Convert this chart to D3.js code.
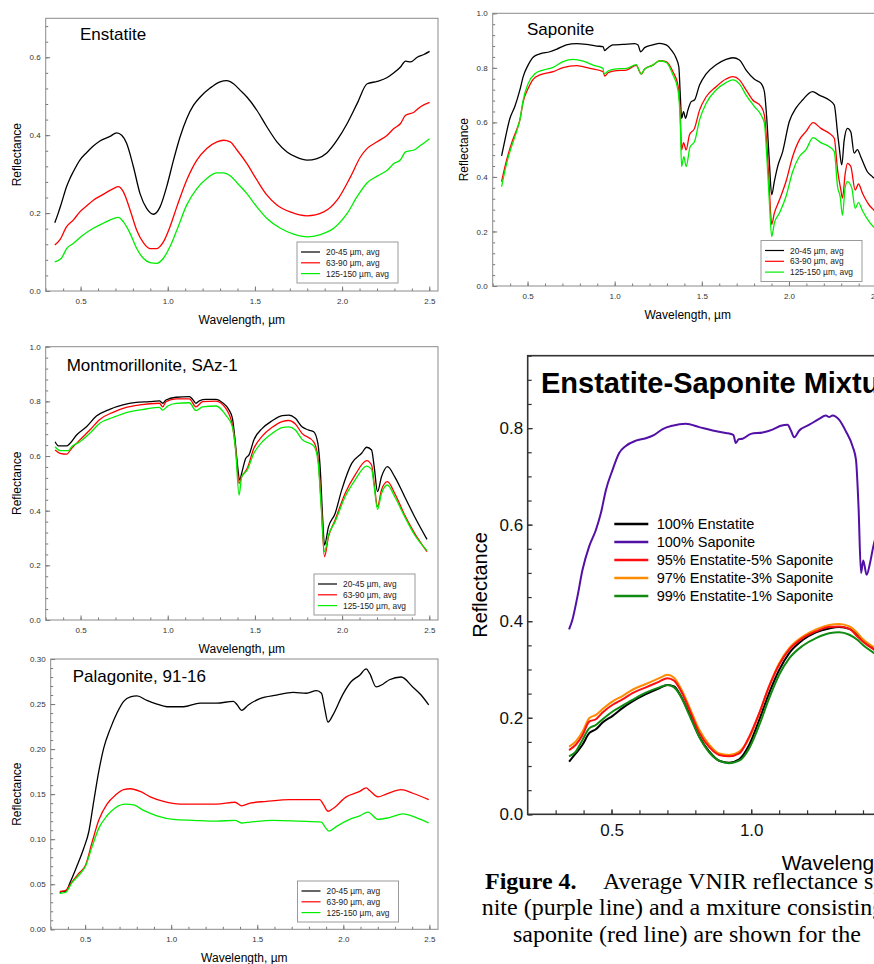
<!DOCTYPE html>
<html>
<head>
<meta charset="utf-8">
<script src="https://cdn.jsdelivr.net/npm/d3@7"></script>
<style>
  body { margin: 0; background: #fff; overflow: hidden; }
  svg { display: block; }
</style>
</head>
<body>
<svg id="fig" width="874" height="964"></svg>
<script>
// legend labels + colours for the grain size panels
const sizeLabels = ["20-45 µm, avg", "63-90 µm, avg", "125-150 µm, avg"];
const sizeColors = ["#000000", "#ff0000", "#00ee00"];

// Enstatite  [wavelength µm, reflectance]
const enstatite20 = [[0.352,0.175],[0.372,0.2],[0.39,0.225],[0.42,0.268],[0.439,0.289],[0.458,0.306],[0.496,0.336],[0.534,0.355],[0.573,0.372],[0.611,0.385],[0.669,0.397],[0.707,0.406],[0.736,0.4],[0.764,0.379],[0.803,0.319],[0.841,0.25],[0.879,0.212],[0.918,0.197],[0.956,0.216],[0.994,0.268],[1.033,0.336],[1.071,0.396],[1.109,0.443],[1.148,0.477],[1.186,0.498],[1.243,0.521],[1.3,0.537],[1.339,0.54],[1.377,0.532],[1.416,0.515],[1.454,0.498],[1.511,0.464],[1.569,0.421],[1.626,0.383],[1.684,0.357],[1.741,0.343],[1.799,0.336],[1.856,0.34],[1.914,0.355],[1.971,0.387],[2.029,0.43],[2.086,0.481],[2.144,0.532],[2.201,0.538],[2.259,0.548],[2.297,0.56],[2.335,0.575],[2.364,0.59],[2.393,0.588],[2.431,0.6],[2.469,0.607],[2.502,0.615]];
const enstatite63 = [[0.352,0.118],[0.381,0.131],[0.42,0.165],[0.458,0.182],[0.496,0.203],[0.534,0.218],[0.573,0.233],[0.63,0.248],[0.688,0.263],[0.717,0.268],[0.745,0.255],[0.784,0.208],[0.822,0.156],[0.86,0.124],[0.898,0.109],[0.937,0.109],[0.975,0.126],[1.013,0.165],[1.052,0.216],[1.109,0.285],[1.167,0.336],[1.224,0.366],[1.282,0.383],[1.32,0.387],[1.358,0.383],[1.397,0.362],[1.454,0.327],[1.511,0.285],[1.569,0.246],[1.626,0.221],[1.703,0.203],[1.799,0.193],[1.895,0.203],[1.971,0.233],[2.048,0.293],[2.105,0.344],[2.144,0.366],[2.201,0.383],[2.259,0.4],[2.297,0.417],[2.335,0.43],[2.364,0.451],[2.412,0.459],[2.45,0.473],[2.502,0.484]];
const enstatite125 = [[0.352,0.075],[0.39,0.084],[0.42,0.109],[0.458,0.122],[0.515,0.144],[0.573,0.161],[0.63,0.174],[0.688,0.186],[0.717,0.189],[0.745,0.178],[0.784,0.148],[0.822,0.109],[0.86,0.084],[0.898,0.073],[0.937,0.071],[0.975,0.084],[1.013,0.114],[1.052,0.156],[1.109,0.221],[1.167,0.263],[1.224,0.289],[1.282,0.303],[1.32,0.303],[1.358,0.296],[1.397,0.278],[1.454,0.25],[1.511,0.216],[1.569,0.186],[1.646,0.161],[1.722,0.146],[1.799,0.139],[1.876,0.145],[1.952,0.161],[2.029,0.199],[2.086,0.242],[2.144,0.278],[2.201,0.295],[2.259,0.31],[2.297,0.327],[2.335,0.337],[2.364,0.357],[2.412,0.362],[2.45,0.374],[2.502,0.391]];

// Saponite
const saponite20 = [[0.351,0.477],[0.37,0.535],[0.399,0.615],[0.427,0.658],[0.456,0.719],[0.475,0.768],[0.504,0.811],[0.532,0.839],[0.571,0.851],[0.628,0.859],[0.666,0.868],[0.723,0.884],[0.781,0.889],[0.838,0.886],[0.895,0.88],[0.933,0.878],[0.943,0.863],[0.952,0.868],[0.99,0.884],[1.048,0.886],[1.115,0.889],[1.134,0.884],[1.149,0.859],[1.172,0.874],[1.219,0.884],[1.258,0.89],[1.296,0.884],[1.324,0.866],[1.353,0.835],[1.368,0.804],[1.376,0.707],[1.384,0.615],[1.395,0.639],[1.407,0.615],[1.42,0.645],[1.439,0.676],[1.458,0.682],[1.487,0.737],[1.525,0.778],[1.582,0.811],[1.639,0.831],[1.678,0.837],[1.716,0.829],[1.754,0.792],[1.802,0.758],[1.84,0.743],[1.859,0.713],[1.872,0.621],[1.887,0.462],[1.901,0.334],[1.916,0.383],[1.935,0.438],[1.964,0.493],[2.002,0.603],[2.04,0.652],[2.078,0.682],[2.135,0.713],[2.174,0.7],[2.231,0.682],[2.26,0.664],[2.279,0.56],[2.288,0.511],[2.303,0.444],[2.317,0.535],[2.336,0.578],[2.355,0.565],[2.374,0.487],[2.393,0.5],[2.412,0.474],[2.45,0.419],[2.479,0.401],[2.5,0.39]];
const saponite63 = [[0.351,0.383],[0.38,0.462],[0.408,0.523],[0.437,0.572],[0.456,0.609],[0.475,0.676],[0.504,0.725],[0.532,0.758],[0.571,0.774],[0.647,0.786],[0.704,0.801],[0.781,0.808],[0.857,0.798],[0.933,0.786],[0.943,0.77],[0.962,0.782],[1.01,0.79],[1.067,0.792],[1.124,0.809],[1.143,0.786],[1.153,0.777],[1.172,0.796],[1.219,0.81],[1.258,0.826],[1.296,0.823],[1.334,0.786],[1.363,0.737],[1.376,0.633],[1.384,0.499],[1.395,0.526],[1.41,0.499],[1.429,0.554],[1.458,0.578],[1.487,0.645],[1.525,0.694],[1.582,0.731],[1.639,0.759],[1.678,0.768],[1.716,0.756],[1.754,0.719],[1.792,0.682],[1.84,0.658],[1.859,0.627],[1.874,0.511],[1.887,0.364],[1.901,0.226],[1.916,0.267],[1.945,0.315],[1.983,0.383],[2.021,0.474],[2.059,0.535],[2.097,0.566],[2.139,0.599],[2.183,0.578],[2.231,0.56],[2.26,0.542],[2.279,0.425],[2.298,0.352],[2.307,0.322],[2.323,0.413],[2.336,0.45],[2.355,0.438],[2.38,0.352],[2.399,0.374],[2.422,0.34],[2.46,0.297],[2.483,0.281],[2.5,0.27]];
const saponite125 = [[0.351,0.364],[0.38,0.45],[0.408,0.511],[0.437,0.566],[0.456,0.609],[0.475,0.682],[0.504,0.743],[0.542,0.778],[0.59,0.792],[0.647,0.802],[0.704,0.823],[0.761,0.831],[0.819,0.825],[0.876,0.81],[0.933,0.798],[0.939,0.778],[0.962,0.788],[1.01,0.796],[1.067,0.798],[1.124,0.812],[1.139,0.792],[1.149,0.778],[1.172,0.795],[1.219,0.81],[1.258,0.826],[1.296,0.82],[1.334,0.775],[1.363,0.719],[1.376,0.609],[1.384,0.438],[1.397,0.474],[1.41,0.438],[1.433,0.511],[1.458,0.529],[1.487,0.609],[1.525,0.67],[1.582,0.719],[1.639,0.746],[1.678,0.756],[1.716,0.741],[1.754,0.7],[1.802,0.658],[1.84,0.627],[1.859,0.597],[1.874,0.462],[1.887,0.315],[1.901,0.181],[1.916,0.23],[1.945,0.267],[1.983,0.328],[2.021,0.419],[2.059,0.474],[2.097,0.499],[2.139,0.544],[2.183,0.526],[2.231,0.511],[2.26,0.493],[2.279,0.364],[2.294,0.328],[2.307,0.26],[2.323,0.364],[2.336,0.383],[2.361,0.358],[2.38,0.285],[2.399,0.306],[2.422,0.276],[2.46,0.236],[2.483,0.218],[2.5,0.21]];

// Montmorillonite, SAz-1
const montmor20 = [[0.354,0.652],[0.373,0.637],[0.42,0.637],[0.439,0.646],[0.477,0.677],[0.534,0.707],[0.591,0.746],[0.667,0.771],[0.743,0.787],[0.819,0.796],[0.895,0.799],[0.952,0.802],[0.971,0.793],[0.99,0.805],[1.048,0.815],[1.124,0.817],[1.143,0.807],[1.162,0.793],[1.181,0.802],[1.219,0.807],[1.276,0.807],[1.314,0.795],[1.352,0.768],[1.371,0.738],[1.386,0.659],[1.399,0.573],[1.413,0.512],[1.424,0.537],[1.447,0.591],[1.466,0.604],[1.494,0.659],[1.542,0.701],[1.599,0.729],[1.656,0.748],[1.694,0.75],[1.732,0.738],[1.77,0.707],[1.808,0.695],[1.837,0.689],[1.861,0.646],[1.875,0.549],[1.888,0.378],[1.899,0.274],[1.922,0.341],[1.96,0.39],[1.998,0.476],[2.055,0.573],[2.112,0.61],[2.141,0.632],[2.169,0.622],[2.184,0.561],[2.203,0.47],[2.226,0.524],[2.26,0.561],[2.302,0.524],[2.359,0.451],[2.416,0.378],[2.487,0.295]];
const montmor63 = [[0.354,0.622],[0.382,0.61],[0.42,0.607],[0.449,0.628],[0.496,0.659],[0.553,0.695],[0.61,0.734],[0.686,0.76],[0.762,0.778],[0.838,0.787],[0.952,0.793],[0.971,0.78],[0.99,0.799],[1.048,0.809],[1.124,0.809],[1.162,0.78],[1.2,0.799],[1.276,0.801],[1.333,0.774],[1.371,0.712],[1.39,0.622],[1.409,0.5],[1.424,0.524],[1.456,0.555],[1.494,0.628],[1.542,0.673],[1.599,0.705],[1.656,0.726],[1.694,0.73],[1.732,0.717],[1.77,0.683],[1.837,0.652],[1.861,0.598],[1.88,0.427],[1.899,0.232],[1.922,0.305],[1.96,0.366],[2.017,0.463],[2.074,0.53],[2.141,0.583],[2.169,0.567],[2.184,0.5],[2.203,0.415],[2.226,0.476],[2.26,0.506],[2.302,0.463],[2.359,0.384],[2.416,0.317],[2.487,0.25]];
const montmor125 = [[0.354,0.634],[0.382,0.62],[0.43,0.62],[0.449,0.634],[0.496,0.652],[0.553,0.683],[0.61,0.72],[0.686,0.741],[0.762,0.759],[0.876,0.772],[0.952,0.778],[0.971,0.768],[1.0,0.783],[1.048,0.793],[1.124,0.795],[1.162,0.766],[1.2,0.78],[1.276,0.783],[1.333,0.75],[1.371,0.707],[1.39,0.616],[1.409,0.457],[1.424,0.524],[1.456,0.549],[1.494,0.61],[1.542,0.652],[1.599,0.683],[1.656,0.704],[1.694,0.707],[1.732,0.695],[1.77,0.661],[1.837,0.637],[1.861,0.585],[1.88,0.415],[1.899,0.25],[1.922,0.311],[1.96,0.36],[2.017,0.451],[2.074,0.512],[2.141,0.563],[2.169,0.551],[2.184,0.488],[2.203,0.405],[2.226,0.463],[2.26,0.494],[2.302,0.451],[2.359,0.378],[2.416,0.311],[2.487,0.254]];

// Palagonite, 91-16
const palag20 = [[0.353,0.04],[0.367,0.042],[0.386,0.042],[0.415,0.053],[0.454,0.071],[0.492,0.09],[0.521,0.108],[0.55,0.142],[0.579,0.175],[0.608,0.201],[0.647,0.223],[0.685,0.24],[0.724,0.253],[0.763,0.258],[0.801,0.259],[0.859,0.254],[0.917,0.25],[0.975,0.247],[1.071,0.247],[1.168,0.251],[1.264,0.251],[1.361,0.253],[1.384,0.249],[1.409,0.243],[1.448,0.249],[1.515,0.256],[1.612,0.26],[1.708,0.263],[1.786,0.262],[1.844,0.265],[1.873,0.262],[1.892,0.245],[1.911,0.23],[1.94,0.238],[1.998,0.261],[2.046,0.275],[2.095,0.282],[2.133,0.289],[2.153,0.284],[2.191,0.269],[2.23,0.272],[2.268,0.277],[2.336,0.28],[2.403,0.269],[2.452,0.26],[2.496,0.249]];
const palag63 = [[0.353,0.042],[0.386,0.043],[0.425,0.053],[0.463,0.062],[0.502,0.071],[0.541,0.097],[0.579,0.121],[0.627,0.139],[0.676,0.149],[0.724,0.155],[0.763,0.156],[0.82,0.153],[0.878,0.147],[0.956,0.142],[1.052,0.139],[1.168,0.139],[1.264,0.139],[1.371,0.141],[1.409,0.137],[1.458,0.14],[1.554,0.142],[1.689,0.144],[1.863,0.144],[1.886,0.138],[1.911,0.131],[1.94,0.134],[2.017,0.147],[2.095,0.153],[2.133,0.157],[2.153,0.154],[2.201,0.147],[2.249,0.15],[2.336,0.155],[2.403,0.151],[2.496,0.144]];
const palag125 = [[0.353,0.04],[0.386,0.041],[0.425,0.052],[0.463,0.06],[0.502,0.07],[0.541,0.092],[0.579,0.112],[0.627,0.126],[0.676,0.135],[0.734,0.139],[0.782,0.138],[0.84,0.132],[0.917,0.126],[1.014,0.122],[1.129,0.121],[1.264,0.12],[1.371,0.121],[1.409,0.118],[1.458,0.119],[1.593,0.121],[1.747,0.12],[1.873,0.119],[1.892,0.114],[1.917,0.109],[1.959,0.114],[2.037,0.122],[2.095,0.126],[2.143,0.13],[2.201,0.122],[2.268,0.124],[2.346,0.128],[2.423,0.124],[2.496,0.118]];

// Enstatite-Saponite mixtures
const mixLabels = ["100% Enstatite", "100% Saponite", "95% Enstatite-5% Saponite", "97% Enstatite-3% Saponite", "99% Enstatite-1% Saponite"];
const mixColors = ["#000000", "#5210a6", "#ff1010", "#ff8c00", "#118a11"];
const mixEnstatite = [[0.348,0.109],[0.372,0.126],[0.396,0.144],[0.42,0.168],[0.444,0.176],[0.468,0.19],[0.504,0.204],[0.539,0.22],[0.575,0.234],[0.623,0.249],[0.671,0.261],[0.7,0.268],[0.724,0.265],[0.748,0.245],[0.778,0.209],[0.814,0.161],[0.85,0.13],[0.885,0.111],[0.921,0.107],[0.957,0.114],[0.993,0.144],[1.029,0.196],[1.064,0.251],[1.1,0.299],[1.136,0.334],[1.184,0.361],[1.232,0.377],[1.279,0.385],[1.315,0.388],[1.351,0.384],[1.381,0.372],[1.399,0.361],[1.437,0.344],[1.46,0.335]];
const mixSaponite = [[0.348,0.383],[0.36,0.403],[0.378,0.451],[0.396,0.506],[0.42,0.555],[0.444,0.589],[0.462,0.624],[0.48,0.672],[0.504,0.714],[0.527,0.748],[0.551,0.763],[0.587,0.774],[0.623,0.779],[0.653,0.786],[0.683,0.798],[0.718,0.805],[0.766,0.809],[0.814,0.802],[0.862,0.795],[0.909,0.79],[0.936,0.786],[0.945,0.769],[0.955,0.777],[0.969,0.778],[0.999,0.788],[1.041,0.791],[1.076,0.797],[1.106,0.805],[1.13,0.807],[1.142,0.795],[1.154,0.781],[1.172,0.795],[1.208,0.807],[1.243,0.819],[1.267,0.826],[1.279,0.823],[1.291,0.826],[1.315,0.817],[1.339,0.793],[1.363,0.762],[1.375,0.734],[1.384,0.638],[1.393,0.5],[1.401,0.526],[1.413,0.496],[1.425,0.52],[1.437,0.555],[1.46,0.6]];
const mix95 = [[0.348,0.133],[0.372,0.144],[0.396,0.164],[0.42,0.192],[0.444,0.197],[0.468,0.211],[0.504,0.227],[0.539,0.238],[0.575,0.251],[0.623,0.263],[0.671,0.275],[0.7,0.282],[0.724,0.277],[0.748,0.256],[0.778,0.218],[0.814,0.169],[0.85,0.139],[0.885,0.123],[0.921,0.12],[0.957,0.126],[0.993,0.161],[1.029,0.21],[1.064,0.265],[1.1,0.31],[1.136,0.341],[1.184,0.365],[1.232,0.379],[1.279,0.388],[1.315,0.389],[1.351,0.384],[1.381,0.368],[1.399,0.358],[1.437,0.342],[1.46,0.333]];
const mix97 = [[0.348,0.14],[0.372,0.151],[0.396,0.171],[0.42,0.199],[0.444,0.206],[0.468,0.218],[0.504,0.234],[0.539,0.245],[0.575,0.258],[0.623,0.27],[0.671,0.282],[0.7,0.289],[0.724,0.283],[0.748,0.261],[0.778,0.223],[0.814,0.175],[0.85,0.144],[0.885,0.126],[0.921,0.123],[0.957,0.13],[0.993,0.158],[1.029,0.209],[1.064,0.265],[1.1,0.313],[1.136,0.344],[1.184,0.368],[1.232,0.383],[1.279,0.392],[1.315,0.394],[1.351,0.389],[1.381,0.375],[1.399,0.363],[1.437,0.347],[1.46,0.338]];
const mix99 = [[0.348,0.12],[0.372,0.13],[0.396,0.154],[0.42,0.178],[0.444,0.185],[0.468,0.197],[0.504,0.213],[0.539,0.225],[0.575,0.237],[0.623,0.252],[0.671,0.263],[0.7,0.268],[0.724,0.263],[0.748,0.244],[0.778,0.206],[0.814,0.16],[0.85,0.128],[0.885,0.111],[0.921,0.106],[0.957,0.111],[0.993,0.137],[1.029,0.185],[1.064,0.24],[1.1,0.289],[1.136,0.323],[1.184,0.349],[1.232,0.365],[1.279,0.375],[1.315,0.377],[1.351,0.372],[1.381,0.361],[1.399,0.351],[1.437,0.335],[1.46,0.327]];

const svg = d3.select("#fig");
const FONT = "Arial, 'Liberation Sans', Helvetica, sans-serif";

// one small grain-size panel
function smallPanel(p) {
  const x = d3.scaleLinear().domain([0.3, 2.55]).range([p.left, p.right]);
  const y = d3.scaleLinear().domain([0, p.yMax]).range([p.bottom, p.top]);
  const g = svg.append("g");
  const id = "clip" + p.name;

  g.append("clipPath").attr("id", id)
    .append("rect").attr("x", p.left).attr("y", p.top)
    .attr("width", p.right - p.left).attr("height", p.bottom - p.top);

  // minor + major ticks, pointing inward
  const yMinor = d3.range(0, p.yMax + 1e-9, p.yStep / 5);
  const yMajor = d3.range(0, p.yMax + 1e-9, p.yStep);
  const xMinor = d3.range(0.3, 2.55, 0.1);
  const xMajor = [0.5, 1.0, 1.5, 2.0, 2.5];

  g.append("g").attr("transform", `translate(${p.left},0)`)
    .call(d3.axisLeft(y).tickValues(yMinor).tickSize(-2.5).tickFormat(""))
    .call(a => a.select(".domain").remove());
  g.append("g").attr("transform", `translate(0,${p.bottom})`)
    .call(d3.axisBottom(x).tickValues(xMinor).tickSize(-2.5).tickFormat(""))
    .call(a => a.select(".domain").remove());

  const ya = g.append("g").attr("transform", `translate(${p.left},0)`)
    .call(d3.axisLeft(y).tickValues(yMajor).tickSize(-4.5).tickPadding(5).tickFormat(d3.format(p.fmt)));
  const xa = g.append("g").attr("transform", `translate(0,${p.bottom})`)
    .call(d3.axisBottom(x).tickValues(xMajor).tickSize(-4.5).tickPadding(7).tickFormat(d3.format(".1f")));
  [ya, xa].forEach(a => {
    a.select(".domain").remove();
    a.attr("font-family", FONT).attr("font-size", 8);
    a.selectAll("text").attr("fill", "#333");
  });
  g.selectAll(".tick line").attr("stroke", "#777");

  g.append("rect")
    .attr("x", p.left).attr("y", p.top)
    .attr("width", p.right - p.left).attr("height", p.bottom - p.top)
    .attr("fill", "none").attr("stroke", "#8a8a8a").attr("stroke-width", 1);

  const line = d3.line().x(d => x(d[0])).y(d => y(d[1])).curve(d3.curveMonotoneX);
  const lines = g.append("g").attr("clip-path", `url(#${id})`);
  p.series.forEach((s, i) => {
    lines.append("path").datum(s)
      .attr("d", line).attr("fill", "none")
      .attr("stroke", sizeColors[i]).attr("stroke-width", 1.3);
  });

  g.append("text").attr("x", p.titleX).attr("y", p.titleY)
    .attr("font-family", FONT).attr("font-size", 17).text(p.title);

  g.append("text")
    .attr("transform", `translate(${p.ylabX},${(p.top + p.bottom) / 2}) rotate(-90)`)
    .attr("text-anchor", "middle").attr("font-family", FONT).attr("font-size", 12)
    .text("Reflectance");
  g.append("text").attr("x", (p.left + Math.min(p.right, 874 + 20)) / 2 + p.xlabShift)
    .attr("y", p.bottom + 33).attr("text-anchor", "middle")
    .attr("font-family", FONT).attr("font-size", 12).text("Wavelength, µm");

  // legend box
  const lg = g.append("g").attr("transform", `translate(${p.legX},${p.legY})`);
  lg.append("rect").attr("width", 101).attr("height", 41)
    .attr("fill", "#fff").attr("stroke", "#9a9a9a").attr("stroke-width", 1);
  sizeLabels.forEach((lab, i) => {
    const yy = 10 + i * 10.8;
    lg.append("line").attr("x1", 4).attr("x2", 23).attr("y1", yy).attr("y2", yy)
      .attr("stroke", sizeColors[i]).attr("stroke-width", 1.2);
    lg.append("text").attr("x", 29).attr("y", yy + 3)
      .attr("font-family", FONT).attr("font-size", 8.4).attr("fill", "#222").text(lab);
  });
}

smallPanel({ name: "ens", left: 45.7, right: 438, top: 18.3, bottom: 291, yMax: 0.7, yStep: 0.2, fmt: ".1f",
  title: "Enstatite", titleX: 80, titleY: 40, ylabX: 21, xlabShift: 0, legX: 297, legY: 242,
  series: [enstatite20, enstatite63, enstatite125] });
smallPanel({ name: "sap", left: 492.7, right: 884.8, top: 13.3, bottom: 286, yMax: 1.0, yStep: 0.2, fmt: ".1f",
  title: "Saponite", titleX: 527, titleY: 35, ylabX: 468, xlabShift: -1, legX: 761, legY: 240.5,
  series: [saponite20, saponite63, saponite125] });
smallPanel({ name: "mon", left: 45.7, right: 438, top: 346.7, bottom: 620, yMax: 1.0, yStep: 0.2, fmt: ".1f",
  title: "Montmorillonite, SAz-1", titleX: 66.7, titleY: 370.5, ylabX: 21, xlabShift: 0, legX: 314, legY: 574,
  series: [montmor20, montmor63, montmor125] });
smallPanel({ name: "pal", left: 50.7, right: 438, top: 659, bottom: 929.3, yMax: 0.3, yStep: 0.05, fmt: ".2f",
  title: "Palagonite, 91-16", titleX: 72.7, titleY: 681.5, ylabX: 21, xlabShift: 0, legX: 297.5, legY: 881,
  series: [palag20, palag63, palag125] });

// big mixture panel (runs off the right edge, like the source page)
(function mixPanel() {
  const left = 527.7, right = 1150, top = 355.7, bottom = 814.3;
  const x = d3.scaleLinear().domain([0.2, 0.2 + (right - left) / 279.4]).range([left, right]);
  const y = d3.scaleLinear().domain([0, 0.95]).range([bottom, top]);
  const g = svg.append("g");

  g.append("g").attr("transform", `translate(${left},0)`)
    .call(d3.axisLeft(y).tickValues(d3.range(0, 0.951, 0.05)).tickSize(-4).tickFormat(""))
    .call(a => a.select(".domain").remove());
  g.append("g").attr("transform", `translate(0,${bottom})`)
    .call(d3.axisBottom(x).tickValues(d3.range(0.3, 2.5, 0.1)).tickSize(-4).tickFormat(""))
    .call(a => a.select(".domain").remove());
  const ya = g.append("g").attr("transform", `translate(${left},0)`)
    .call(d3.axisLeft(y).tickValues([0, 0.2, 0.4, 0.6, 0.8]).tickSize(-5).tickPadding(4.5).tickFormat(d3.format(".1f")));
  const xa = g.append("g").attr("transform", `translate(0,${bottom})`)
    .call(d3.axisBottom(x).tickValues([0.5, 1.0, 1.5, 2.0]).tickSize(-5).tickPadding(10).tickFormat(d3.format(".1f")));
  [ya, xa].forEach(a => {
    a.select(".domain").remove();
    a.attr("font-family", FONT).attr("font-size", 17);
    a.selectAll("text").attr("fill", "#111");
  });
  g.selectAll(".tick line").attr("stroke", "#333").attr("stroke-width", 1.2);

  g.append("rect").attr("x", left).attr("y", top)
    .attr("width", right - left).attr("height", bottom - top)
    .attr("fill", "none").attr("stroke", "#333").attr("stroke-width", 1.6);

  const line = d3.line().x(d => x(d[0])).y(d => y(d[1])).curve(d3.curveMonotoneX);
  // draw order: enstatite first, saponite, then mixtures
  const mixSeries = [mixEnstatite, mixSaponite, mix95, mix97, mix99];
  [0, 3, 2, 4, 1].forEach(i => {
    g.append("path").datum(mixSeries[i]).attr("d", line)
      .attr("fill", "none").attr("stroke", mixColors[i]).attr("stroke-width", 2);
  });

  g.append("text").attr("x", 541).attr("y", 392.7)
    .attr("font-family", FONT).attr("font-weight", "bold").attr("font-size", 29)
    .text("Enstatite-Saponite Mixtures");

  mixLabels.forEach((lab, i) => {
    const yy = 524 + i * 18;
    g.append("line").attr("x1", 614.3).attr("x2", 648.3).attr("y1", yy).attr("y2", yy)
      .attr("stroke", mixColors[i]).attr("stroke-width", 2.4);
    g.append("text").attr("x", 656.7).attr("y", yy + 5.2)
      .attr("font-family", FONT).attr("font-size", 14.5).text(lab);
  });

  g.append("text")
    .attr("transform", `translate(487,${(top + bottom) / 2}) rotate(-90)`)
    .attr("text-anchor", "middle").attr("font-family", FONT).attr("font-size", 20)
    .text("Reflectance");
  g.append("text").attr("x", 781.7).attr("y", 869.5)
    .attr("font-family", FONT).attr("font-size", 21).text("Wavelength, µm");
})();

// caption
const SERIF = "'Liberation Serif', 'Times New Roman', Times, serif";
const cap1 = svg.append("text").attr("y", 889).attr("font-family", SERIF).attr("font-size", 24);
cap1.append("tspan").attr("x", 485).attr("font-weight", "bold").text("Figure 4.");
cap1.append("tspan").attr("x", 603).text("Average VNIR reflectance spectra");
svg.append("text").attr("x", 481.7).attr("y", 915).attr("font-family", SERIF).attr("font-size", 24)
  .text("nite (purple line) and a mxiture consisting");
svg.append("text").attr("x", 513).attr("y", 941.5).attr("font-family", SERIF).attr("font-size", 24)
  .text("saponite (red line) are shown for the");
</script>
</body>
</html>
